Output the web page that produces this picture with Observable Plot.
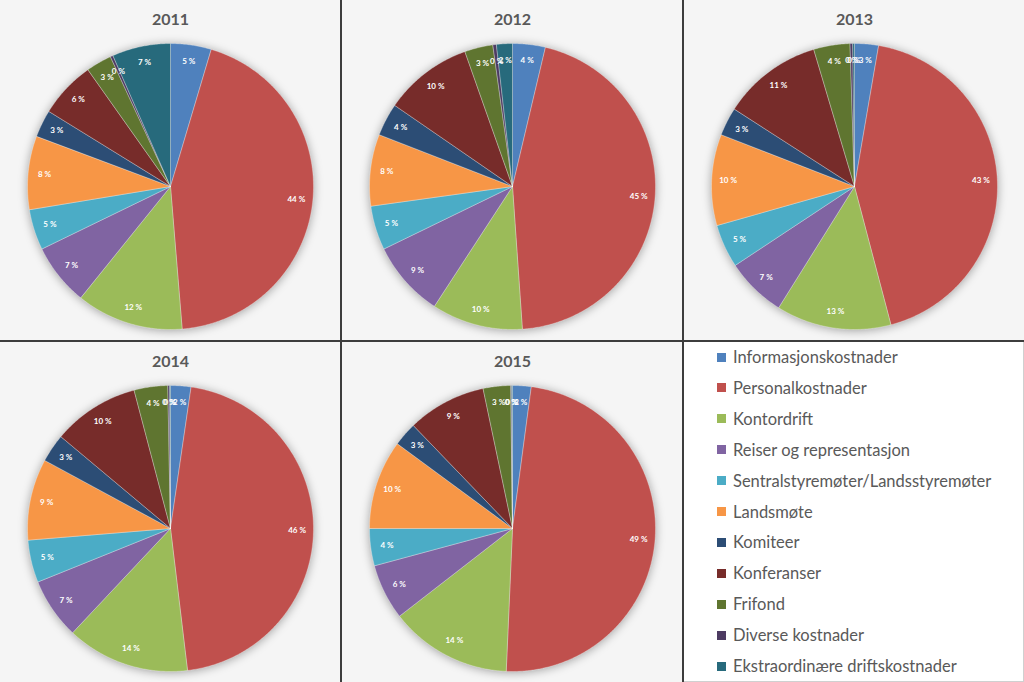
<!DOCTYPE html>
<html><head><meta charset="utf-8">
<script src="https://cdn.jsdelivr.net/npm/d3@7"></script>
<script src="https://cdn.jsdelivr.net/npm/@observablehq/plot@0.6"></script>
<style>
body{margin:0;background:#fff;}
#grid{display:grid;grid-template-columns:340px 340px 340px;grid-template-rows:340px 340px;gap:2px;background:#3d3d3d;width:1024px;height:682px;}
.cell{background:#f5f5f5;position:relative;overflow:hidden;}
.cell svg{display:block;}
.legend{background:#fff;border-right:1px solid #d0d0d0;border-bottom:1px solid #d0d0d0;box-sizing:border-box;}
.item{position:absolute;left:33px;display:flex;align-items:center;transform:translateY(-50%);font-family:Lato,"Open Sans",sans-serif;font-size:16.5px;color:#595959;white-space:nowrap;}
.sw{width:9px;height:9px;margin-right:7px;}
</style></head>
<body>
<div id="grid"></div>
<script>
const years = ["2011","2012","2013","2014","2015"];
const categories = ["Informasjonskostnader","Personalkostnader","Kontordrift","Reiser og representasjon","Sentralstyremøter/Landsstyremøter","Landsmøte","Komiteer","Konferanser","Frifond","Diverse kostnader","Ekstraordinære driftskostnader"];
const colors = ["#4F81BD","#C0504D","#9BBB59","#8064A2","#4BACC6","#F79646","#2C4D75","#772C2A","#5F7530","#4D3B62","#276A7C"];
const values2011 = [4.6, 44.1, 12.1, 7.0, 4.6, 8.3, 3.1, 6.4, 2.9, 0.3, 6.6];
const values2012 = [3.7, 45.2, 10.3, 8.6, 5.0, 8.1, 3.7, 10.0, 3.2, 0.4, 1.8];
const values2013 = [2.7, 43.2, 13.0, 6.8, 4.9, 10.3, 3.2, 11.3, 4.1, 0.3, 0.2];
const values2014 = [2.3, 45.8, 13.9, 6.9, 4.8, 9.2, 3.2, 9.8, 3.8, 0.2, 0.1];
const values2015 = [2.1, 48.6, 13.8, 6.3, 4.2, 10.1, 2.7, 8.9, 3.1, 0.1, 0.1];
const allValues = [values2011, values2012, values2013, values2014, values2015];

const R = 143, W = 340, H = 340, CX = 170, CY = 186;

function piePlot(year, values) {
  const sum = d3.sum(values);
  const arcs = d3.pie().sort(null).value(d => d)(values);
  const pts = [];
  arcs.forEach((a, i) => {
    const cat = categories[i];
    pts.push({cat, x: 0, y: 0});
    const n = Math.max(2, Math.ceil((a.endAngle - a.startAngle) / (Math.PI / 360)));
    for (let k = 0; k <= n; k++) {
      const t = a.startAngle + (a.endAngle - a.startAngle) * k / n;
      pts.push({cat, x: Math.sin(t), y: Math.cos(t)});
    }
    pts.push({cat, x: 0, y: 0});
  });
  const labels = arcs.map((a, i) => {
    const m = (a.startAngle + a.endAngle) / 2;
    return {x: 0.885 * Math.sin(m), y: 0.885 * Math.cos(m), text: Math.round(values[i] / sum * 100) + " %"};
  });
  const p = Plot.plot({
    width: W, height: H, margin: 0,
    x: {domain: [-CX / R, (W - CX) / R], axis: null},
    y: {domain: [-(H - CY) / R, CY / R], axis: null},
    color: {domain: categories, range: colors},
    style: {background: "transparent", fontFamily: "Lato, 'Open Sans', sans-serif"},
    marks: [
      Plot.line(pts, {x: "x", y: "y", z: "cat", fill: "cat", stroke: "#ffffff", strokeWidth: 0.6, strokeOpacity: 0.5}),
      Plot.text(labels, {x: "x", y: "y", text: "text", fill: "#ffffff", fontSize: 8, fontWeight: "bold"}),
      Plot.text([year], {frameAnchor: "top", lineAnchor: "middle", dy: 19, text: d => d, fontSize: 16, fontWeight: "bold", fill: "#595959"})
    ]
  });
  const g = p.querySelector('g[aria-label="line"]');
  if (g) g.style.filter = "drop-shadow(0px 1px 5px rgba(0,0,0,0.35))";
  return p;
}

const grid = document.getElementById("grid");
years.forEach((y, i) => {
  const cell = document.createElement("div");
  cell.className = "cell";
  cell.appendChild(piePlot(y, allValues[i]));
  grid.appendChild(cell);
});
const leg = document.createElement("div");
leg.className = "cell legend";
categories.forEach((c, i) => {
  const it = document.createElement("div");
  it.className = "item";
  it.style.top = (15 + i * 30.9) + "px";
  const sw = document.createElement("span");
  sw.className = "sw";
  sw.style.background = colors[i];
  const t = document.createElement("span");
  t.textContent = c;
  it.appendChild(sw); it.appendChild(t);
  leg.appendChild(it);
});
grid.appendChild(leg);
</script>
</body></html>
